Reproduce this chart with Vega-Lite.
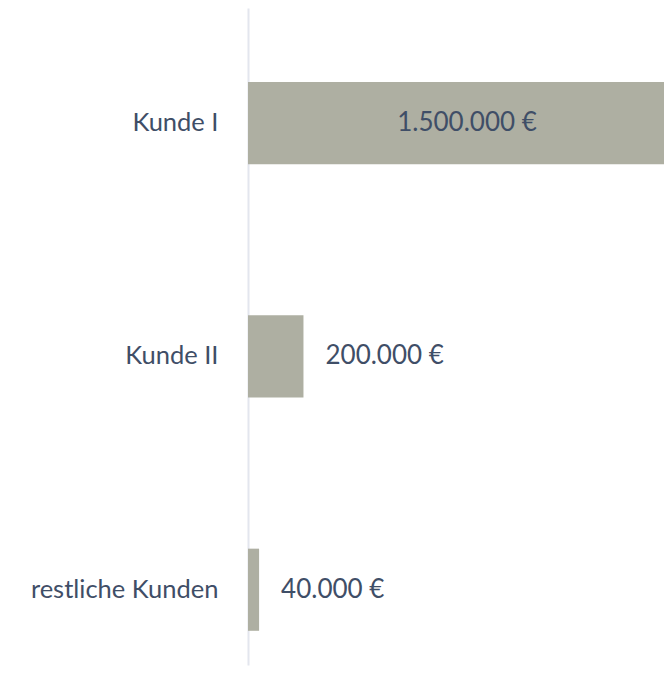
{
  "$schema": "https://vega.github.io/schema/vega-lite/v6.json",
  "autosize": {"type": "none"},
  "padding": {"left": 248, "top": 8, "right": 0, "bottom": 33},
  "width": 416,
  "height": 657,
  "background": "#ffffff",
  "data": {
    "values": [
      {"kunde": "Kunde I", "value": 1500000, "label": "1.500.000 €"},
      {"kunde": "Kunde II", "value": 200000, "label": "200.000 €"},
      {"kunde": "restliche Kunden", "value": 40000, "label": "40.000 €"}
    ]
  },
  "encoding": {
    "y": {
      "field": "kunde",
      "type": "nominal",
      "sort": null,
      "scale": {"paddingInner": 0.648, "paddingOuter": 0.232, "align": 0.684},
      "axis": {
        "title": null,
        "ticks": false,
        "domain": true,
        "domainColor": "#e3e6ee",
        "domainWidth": 2,
        "labelFont": "Lato",
        "labelFontSize": 25.5,
        "labelColor": "#3f4e67",
        "labelPadding": 30,
        "labelLimit": 400,
        "grid": false
      }
    }
  },
  "layer": [
    {
      "mark": {"type": "bar", "color": "#aeafa2"},
      "encoding": {
        "x": {
          "field": "value",
          "type": "quantitative",
          "scale": {"domain": [0, 1500000], "nice": false},
          "axis": null
        }
      }
    },
    {
      "transform": [
        {"filter": "datum.kunde === 'Kunde I'"},
        {"calculate": "datum.value / 2", "as": "mid"}
      ],
      "mark": {"type": "text", "align": "center", "baseline": "middle", "font": "Lato", "fontSize": 26, "color": "#3f4e67", "dx": 11},
      "encoding": {
        "x": {"field": "mid", "type": "quantitative"},
        "text": {"field": "label"}
      }
    },
    {
      "transform": [
        {"filter": "datum.kunde !== 'Kunde I'"}
      ],
      "mark": {"type": "text", "align": "left", "baseline": "middle", "font": "Lato", "fontSize": 26, "color": "#3f4e67", "dx": 22},
      "encoding": {
        "x": {"field": "value", "type": "quantitative"},
        "text": {"field": "label"}
      }
    }
  ],
  "config": {"view": {"stroke": null}}
}
